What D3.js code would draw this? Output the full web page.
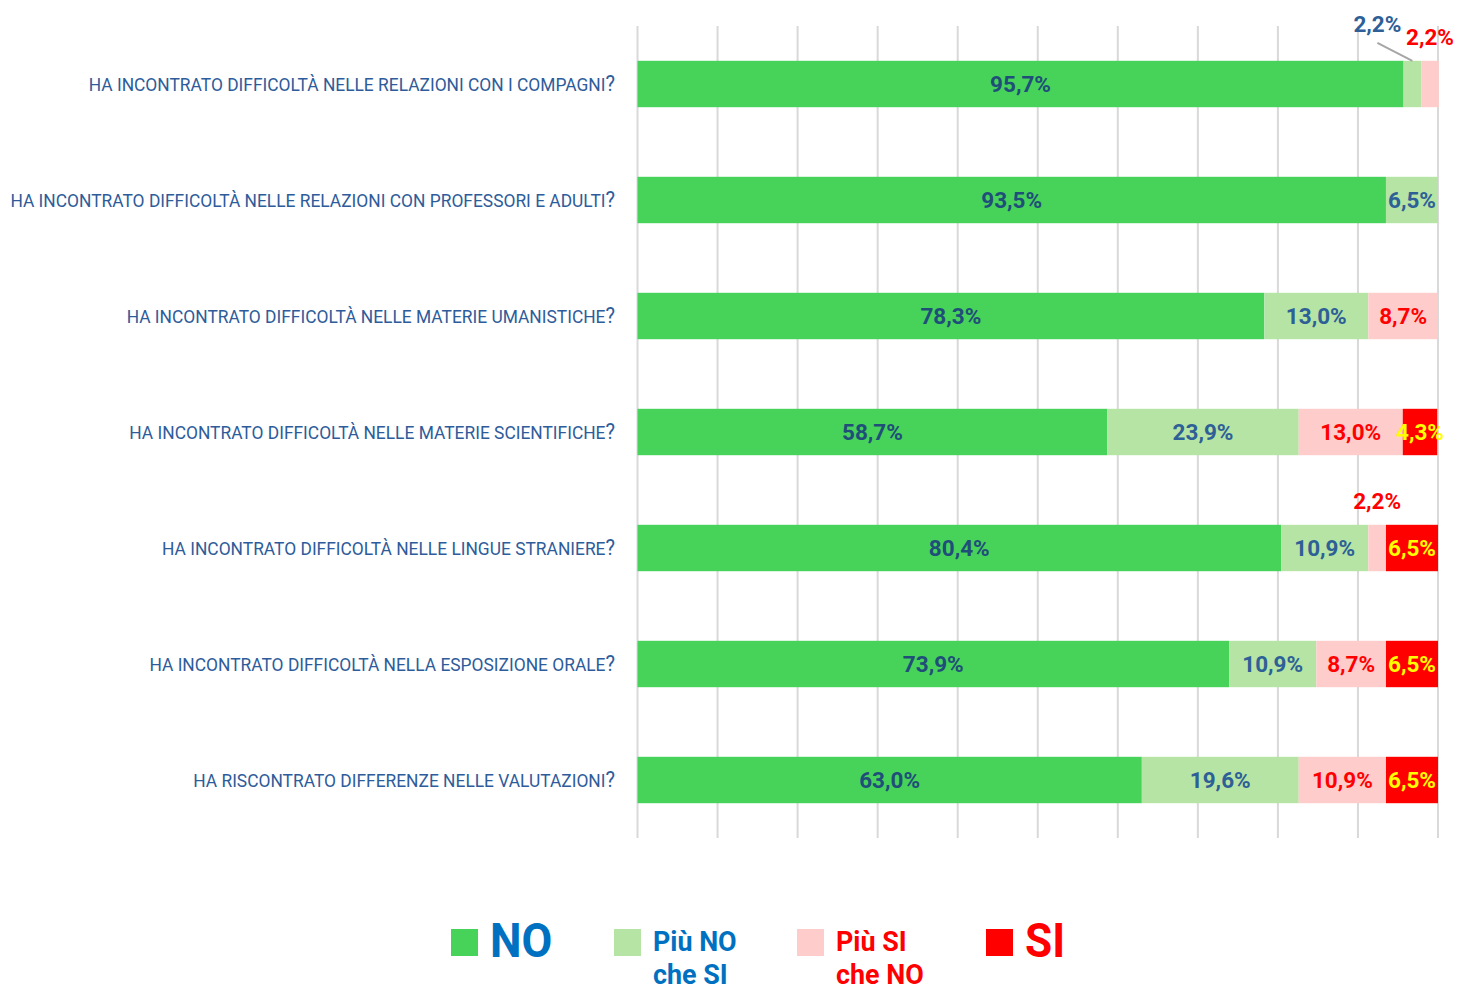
<!DOCTYPE html>
<html>
<head>
<meta charset="utf-8">
<script src="https://cdn.jsdelivr.net/npm/d3@7"></script>
<style>
  html, body { margin: 0; padding: 0; background: #fff; }
  svg { display: block; font-family: Roboto, "Liberation Sans", sans-serif; }
</style>
</head>
<body>
<svg id="chart" width="1458" height="988"></svg>
<script>
// Survey questions (top to bottom)
const categories = [
  "HA INCONTRATO DIFFICOLTÀ NELLE RELAZIONI CON I COMPAGNI?",
  "HA INCONTRATO DIFFICOLTÀ NELLE RELAZIONI CON PROFESSORI E ADULTI?",
  "HA INCONTRATO DIFFICOLTÀ NELLE MATERIE UMANISTICHE?",
  "HA INCONTRATO DIFFICOLTÀ NELLE MATERIE SCIENTIFICHE?",
  "HA INCONTRATO DIFFICOLTÀ NELLE LINGUE STRANIERE?",
  "HA INCONTRATO DIFFICOLTÀ NELLA ESPOSIZIONE ORALE?",
  "HA RISCONTRATO DIFFERENZE NELLE VALUTAZIONI?"
];

// Answer shares in percent
const seriesNames = ["NO", "Più NO che SI", "Più SI che NO", "SI"];
const valuesNo     = [95.7, 93.5, 78.3, 58.7, 80.4, 73.9, 63.0];
const valuesPiuNo  = [2.2, 6.5, 13.0, 23.9, 10.9, 10.9, 19.6];
const valuesPiuSi  = [2.2, 0, 8.7, 13.0, 2.2, 8.7, 10.9];
const valuesSi     = [0, 0, 0, 4.3, 6.5, 6.5, 6.5];

const xTicks = [0, 10, 20, 30, 40, 50, 60, 70, 80, 90, 100];

const fills      = ["#47d35a", "#b5e4a5", "#ffcccc", "#ff0000"];
const labelCols  = ["#1f4e79", "#2e5f96", "#ff0000", "#ffff00"];
const legendCols = ["#0070c0", "#0070c0", "#ff0000", "#ff0000"];

const svg = d3.select("#chart");

const x = d3.scaleLinear().domain([0, 100]).range([637.5, 1438]);
const y = d3.scaleBand().domain(categories).range([26, 838])
  .paddingInner(0.6).paddingOuter(0.3);

// Vertical gridlines
svg.append("g")
  .selectAll("line")
  .data(xTicks)
  .join("line")
  .attr("x1", d => x(d)).attr("x2", d => x(d))
  .attr("y1", 26).attr("y2", 838)
  .attr("stroke", "#d9d9d9")
  .attr("stroke-width", 2);

// Stack the series
const rows = categories.map((c, i) => ({
  cat: c,
  v: [valuesNo[i], valuesPiuNo[i], valuesPiuSi[i], valuesSi[i]]
}));
const segments = [];
rows.forEach((r, ri) => {
  let acc = 0;
  r.v.forEach((v, si) => {
    segments.push({ cat: r.cat, row: ri, s: si, v, x0: acc, x1: acc + v });
    acc += v;
  });
});
const shown = segments.filter(d => d.v > 0);

svg.append("g")
  .selectAll("rect")
  .data(shown)
  .join("rect")
  .attr("x", d => x(d.x0))
  .attr("y", d => y(d.cat))
  .attr("width", d => x(d.x1) - x(d.x0))
  .attr("height", y.bandwidth())
  .attr("fill", d => fills[d.s]);

const fmt = v => d3.format(".1f")(v).replace(".", ",") + "%";

// Segments too thin for an inside label get theirs above the bar
const isSmall = d => d.v < 3;

const lbl = svg.append("g")
  .attr("font-weight", 700)
  .attr("font-size", 22.5)
  .attr("text-anchor", "middle");

lbl.selectAll("text.in")
  .data(shown.filter(d => !isSmall(d)))
  .join("text")
  .attr("class", "in")
  .attr("x", d => (x(d.x0) + x(d.x1)) / 2)
  .attr("y", d => y(d.cat) + y.bandwidth() / 2)
  .attr("dy", "0.36em")
  .attr("fill", d => labelCols[d.s])
  .text(d => fmt(d.v));

// Outside labels: the first row's "Più NO" label is pulled left with a leader line
const outside = shown.filter(isSmall).map(d => {
  const cx = (x(d.x0) + x(d.x1)) / 2;
  const top = y(d.cat);
  const leader = d.row === 0 && d.s === 1;
  return {
    ...d,
    cx, top, leader,
    tx: leader ? cx - 35 : cx,
    ty: leader ? top - 29 : top - 16
  };
});

svg.append("g")
  .selectAll("line")
  .data(outside.filter(d => d.leader))
  .join("line")
  .attr("x1", d => d.tx).attr("y1", d => d.ty + 11)
  .attr("x2", d => d.cx).attr("y2", d => d.top)
  .attr("stroke", "#a6a6a6")
  .attr("stroke-width", 2);

lbl.selectAll("text.out")
  .data(outside)
  .join("text")
  .attr("class", "out")
  .attr("x", d => d.tx)
  .attr("y", d => d.ty)
  .attr("fill", d => d.s === 1 ? "#2e5f96" : "#ff0000")
  .text(d => fmt(d.v));

// Category labels, right aligned against the plot, narrow letterforms
const catG = svg.append("g");
categories.forEach(c => {
  const g = catG.append("g")
    .attr("transform", `translate(615,${y(c) + y.bandwidth() / 2}) scale(0.915,1)`);
  const t = g.append("text")
    .attr("text-anchor", "end")
    .attr("dy", "0.36em")
    .attr("font-size", 19)
    .attr("fill", "#2e5c9a");
  t.append("tspan").text(c.slice(0, -1));
  t.append("tspan").attr("font-size", 22).text("?");
});

// Legend
const legendItems = [
  { s: 0, bx: 451, tx: 490, lines: ["NO"], big: true, sx: 0.93 },
  { s: 1, bx: 614, tx: 653, lines: ["Più NO", "che SI"], big: false, sx: 0.96 },
  { s: 2, bx: 797, tx: 836, lines: ["Più SI", "che NO"], big: false, sx: 0.96 },
  { s: 3, bx: 986, tx: 1025, lines: ["SI"], big: true, sx: 0.92 }
];
const leg = svg.append("g");
legendItems.forEach(it => {
  leg.append("rect")
    .attr("x", it.bx).attr("y", 929)
    .attr("width", 27).attr("height", 27)
    .attr("fill", fills[it.s]);
  it.lines.forEach((ln, k) => {
    leg.append("g")
      .attr("transform", `translate(${it.tx},${it.big ? 957 : 951 + k * 33}) scale(${it.sx},1)`)
      .append("text")
      .attr("font-weight", 700)
      .attr("font-size", it.big ? 48 : 28)
      .attr("fill", legendCols[it.s])
      .text(ln);
  });
});
</script>
</body>
</html>
